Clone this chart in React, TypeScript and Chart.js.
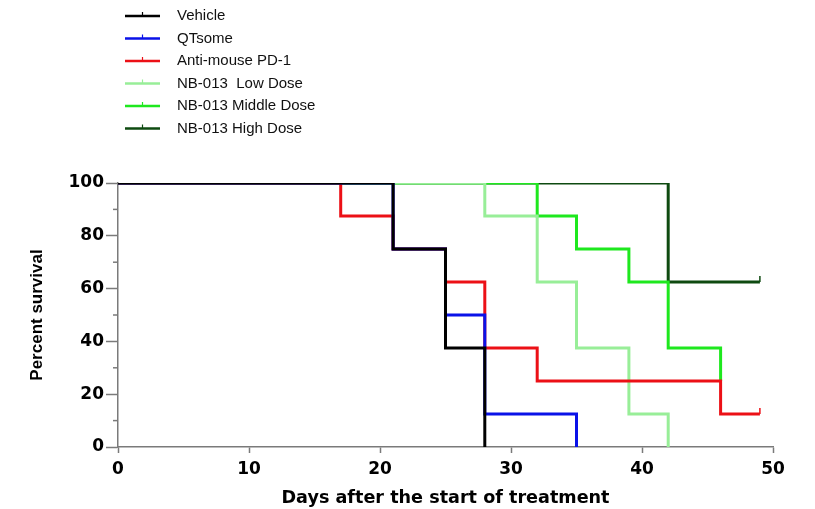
import React, { useEffect, useRef } from "react";
import { Chart, registerables } from "chart.js";

Chart.register(...registerables);

const seriesNames = [
  "Vehicle",
  "QTsome",
  "Anti-mouse PD-1",
  "NB-013  Low Dose",
  "NB-013 Middle Dose",
  "NB-013 High Dose",
];
const seriesColors = ["#000000", "#0a12e8", "#ec1016", "#98ee98", "#1ee81e", "#0e4a10"];

const vehicleDays = [0, 21, 25, 28];
const vehicleSurvival = [100, 75, 37.5, 0];
const qtsomeDays = [0, 21, 25, 28, 35];
const qtsomeSurvival = [100, 75, 50, 12.5, 0];
const pd1Days = [0, 17, 21, 25, 28, 32, 46, 49];
const pd1Survival = [100, 87.5, 75, 62.5, 37.5, 25, 12.5, 12.5];
const lowDays = [0, 28, 32, 35, 39, 42];
const lowSurvival = [100, 87.5, 62.5, 37.5, 12.5, 0];
const midDays = [0, 32, 35, 39, 42, 46];
const midSurvival = [100, 87.5, 75, 62.5, 37.5, 25];
const highDays = [0, 42, 49];
const highSurvival = [100, 62.5, 62.5];
// censored at the final point
const censoredEnd = [false, false, true, false, false, true];

const allDays = [vehicleDays, qtsomeDays, pd1Days, lowDays, midDays, highDays];
const allSurvival = [vehicleSurvival, qtsomeSurvival, pd1Survival, lowSurvival, midSurvival, highSurvival];

const xTicks = [0, 10, 20, 30, 40, 50];
const yTicks = [0, 20, 40, 60, 80, 100];
const yMinorTicks = [10, 30, 50, 70, 90];

const FONT = "'Liberation Sans', Arial, Helvetica, sans-serif";
const WIDE = "'DejaVu Sans', 'Liberation Sans', Arial, sans-serif";
const AXIS_GRAY = "#7a7a7a";

export default function App() {
  const ref = useRef<HTMLCanvasElement | null>(null);

  useEffect(() => {
    document.body.style.margin = "0";
    const canvas = ref.current;
    if (!canvas) return;

    const datasets = seriesNames.map((name, i) => ({
      label: name,
      data: allDays[i].map((d, j) => ({ x: d, y: allSurvival[i][j] })),
      borderColor: seriesColors[i],
      backgroundColor: seriesColors[i],
      borderWidth: 3,
      stepped: "before" as const,
      pointRadius: 0,
      fill: false,
    }));

    const extras = {
      id: "extras",
      afterDatasetsDraw(chart: any) {
        const ctx = chart.ctx;
        chart.data.datasets.forEach((ds: any, i: number) => {
          if (!censoredEnd[i]) return;
          const meta = chart.getDatasetMeta(i);
          const pt = meta.data[meta.data.length - 1];
          ctx.save();
          ctx.strokeStyle = seriesColors[i];
          ctx.lineWidth = 1.5;
          ctx.beginPath();
          ctx.moveTo(pt.x, pt.y);
          ctx.lineTo(pt.x, pt.y - 6);
          ctx.stroke();
          ctx.restore();
        });
      },
      afterDraw(chart: any) {
        const ctx = chart.ctx;
        const y = chart.scales.y;
        const left = chart.chartArea.left;
        ctx.save();
        ctx.strokeStyle = AXIS_GRAY;
        ctx.lineWidth = 1.5;
        yMinorTicks.forEach((v) => {
          const py = y.getPixelForValue(v);
          ctx.beginPath();
          ctx.moveTo(left - 5, py);
          ctx.lineTo(left, py);
          ctx.stroke();
        });
        // legend
        const lx0 = 125;
        const lx1 = 160;
        const tx = 177;
        const y0 = 16;
        const dy = 22.5;
        ctx.font = `15px ${FONT}`;
        ctx.textBaseline = "middle";
        ctx.textAlign = "left";
        seriesNames.forEach((name, i) => {
          const ly = y0 + i * dy;
          ctx.strokeStyle = seriesColors[i];
          ctx.lineWidth = 2.5;
          ctx.beginPath();
          ctx.moveTo(lx0, ly);
          ctx.lineTo(lx1, ly);
          ctx.stroke();
          ctx.lineWidth = 1.2;
          ctx.beginPath();
          ctx.moveTo((lx0 + lx1) / 2, ly);
          ctx.lineTo((lx0 + lx1) / 2, ly - 4);
          ctx.stroke();
          ctx.fillStyle = "#111";
          ctx.fillText(name, tx, ly);
        });
        ctx.restore();
      },
    };

    const chart = new Chart(canvas, {
      type: "line",
      data: { datasets },
      plugins: [extras],
      options: {
        animation: false,
        responsive: false,
        maintainAspectRatio: false,
        layout: { padding: { top: 183, right: 42, left: 0, bottom: 0 } },
        plugins: {
          legend: { display: false },
          tooltip: { enabled: false },
        },
        scales: {
          x: {
            type: "linear",
            min: 0,
            max: 50,
            afterBuildTicks: (scale: any) => {
              scale.ticks = xTicks.map((v) => ({ value: v }));
            },
            afterFit: (scale: any) => {
              scale.height = 62;
            },
            ticks: {
              color: "#000",
              font: { family: WIDE, size: 17, weight: "bold" },
              padding: 6,
              maxRotation: 0,
            },
            grid: {
              drawOnChartArea: false,
              drawTicks: true,
              tickLength: 6,
              tickColor: AXIS_GRAY,
              tickWidth: 1.5,
            },
            border: { color: AXIS_GRAY, width: 1.5 },
            title: {
              display: true,
              text: "Days after the start of treatment",
              color: "#000",
              font: { family: WIDE, size: 17.6, weight: "bold" },
              padding: { top: 0, bottom: 0 },
            },
          },
          y: {
            type: "linear",
            min: 0,
            max: 100,
            afterBuildTicks: (scale: any) => {
              scale.ticks = yTicks.map((v) => ({ value: v }));
            },
            afterFit: (scale: any) => {
              scale.width = 118;
            },
            ticks: {
              color: "#000",
              font: { family: WIDE, size: 17, weight: "bold" },
              padding: 2,
            },
            grid: {
              drawOnChartArea: false,
              drawTicks: true,
              tickLength: 12,
              tickColor: AXIS_GRAY,
              tickWidth: 1.5,
            },
            border: { color: AXIS_GRAY, width: 1.5 },
            title: {
              display: true,
              text: "Percent survival",
              color: "#000",
              font: { family: FONT, size: 17, weight: "bold" },
              padding: { top: 27, bottom: 0 },
            },
          },
        },
      },
    });

    return () => chart.destroy();
  }, []);

  return (
    <div style={{ width: 815, height: 509, position: "relative", background: "#fff" }}>
      <canvas ref={ref} width={815} height={509} style={{ width: 815, height: 509, display: "block" }} />
    </div>
  );
}
